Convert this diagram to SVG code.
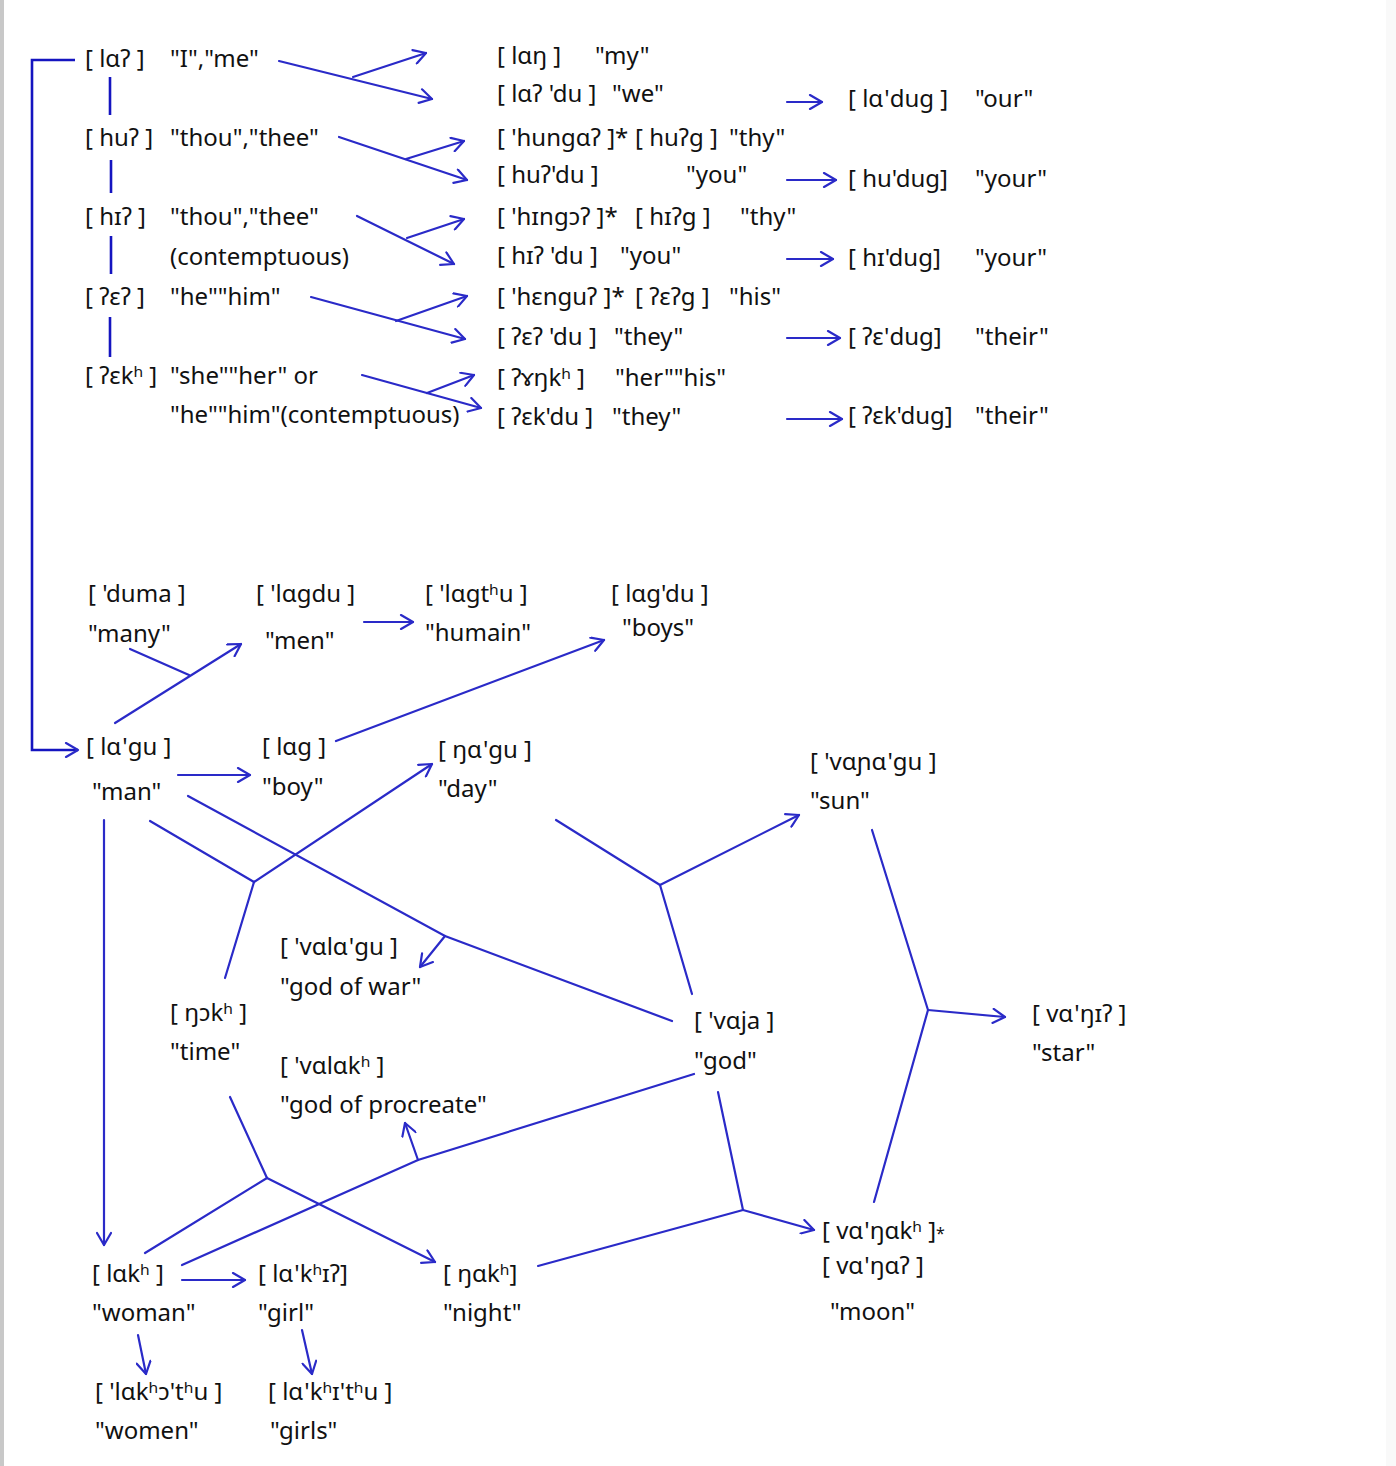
<svg xmlns="http://www.w3.org/2000/svg" width="1396" height="1466" viewBox="0 0 1396 1466">
<style>
text{font-family:"Noto Sans","DejaVu Sans",sans-serif;font-size:24px;fill:#111;white-space:pre}
.c{fill:none;stroke:#2a2ac8;stroke-width:2.2;stroke-linecap:round}
.k{fill:none;stroke:#1414c0;stroke-width:2.6}
.a{marker-end:url(#ah)}
.sm{font-size:16px}
</style>
<defs>
<marker id="ah" viewBox="-14 -8 16 16" markerWidth="16" markerHeight="16" refX="0" refY="0" orient="auto" markerUnits="userSpaceOnUse">
<path d="M-12,-7 L0,0 L-12,7" fill="none" stroke="#2a2ac8" stroke-width="2.2" stroke-linecap="round" stroke-linejoin="round"/>
</marker>
</defs>
<rect width="1396" height="1466" fill="#fff"/>
<rect x="0" y="0" width="4" height="1466" fill="#c8c8c8"/>
<rect x="1386" y="0" width="10" height="1466" fill="#f9f9f9"/>

<g id="connectors">
<path class="k a" d="M75,60 H32 V750 H78"/>
<line class="k" x1="110" y1="77" x2="110" y2="115"/>
<line class="k" x1="111" y1="160" x2="111" y2="193"/>
<line class="k" x1="111" y1="236" x2="111" y2="274"/>
<line class="k" x1="110" y1="317" x2="110" y2="357"/>

<line class="c a" x1="279" y1="61" x2="432" y2="99"/>
<line class="c a" x1="353" y1="77" x2="426" y2="53"/>
<line class="c a" x1="339" y1="137" x2="467" y2="180"/>
<line class="c a" x1="406" y1="159" x2="464" y2="141"/>
<line class="c a" x1="357" y1="216" x2="454" y2="264"/>
<line class="c a" x1="407" y1="238" x2="464" y2="219"/>
<line class="c a" x1="311" y1="297" x2="465" y2="339"/>
<line class="c a" x1="396" y1="321" x2="467" y2="296"/>
<line class="c a" x1="362" y1="375" x2="481" y2="408"/>
<line class="c a" x1="427" y1="393" x2="474" y2="375"/>

<line class="c a" x1="787" y1="102" x2="822" y2="102"/>
<line class="c a" x1="787" y1="180" x2="836" y2="180"/>
<line class="c a" x1="787" y1="259" x2="833" y2="259"/>
<line class="c a" x1="787" y1="338" x2="840" y2="338"/>
<line class="c a" x1="787" y1="419" x2="842" y2="419"/>

<line class="c" x1="130" y1="649" x2="189" y2="675"/>
<line class="c a" x1="115" y1="723" x2="241" y2="644"/>
<line class="c a" x1="364" y1="622" x2="413" y2="622"/>
<line class="c a" x1="336" y1="741" x2="604" y2="640"/>
<line class="c a" x1="178" y1="775" x2="250" y2="775"/>

<line class="c" x1="150" y1="821" x2="254" y2="882"/>
<line class="c" x1="225" y1="978" x2="254" y2="882"/>
<line class="c a" x1="254" y1="882" x2="432" y2="764"/>

<polyline class="c" points="188,796 445,936 672,1021"/>
<line class="c a" x1="445" y1="936" x2="420" y2="967"/>

<line class="c" x1="556" y1="820" x2="660" y2="885"/>
<line class="c" x1="692" y1="994" x2="660" y2="885"/>
<line class="c a" x1="660" y1="885" x2="799" y2="815"/>

<line class="c" x1="872" y1="830" x2="928" y2="1010"/>
<line class="c" x1="874" y1="1202" x2="928" y2="1010"/>
<line class="c a" x1="928" y1="1010" x2="1005" y2="1017"/>

<line class="c a" x1="104" y1="820" x2="104" y2="1245"/>

<line class="c" x1="230" y1="1097" x2="267" y2="1178"/>
<line class="c" x1="145" y1="1253" x2="267" y2="1178"/>
<line class="c a" x1="267" y1="1178" x2="435" y2="1262"/>

<polyline class="c" points="182,1265 418,1160 694,1074"/>
<line class="c a" x1="418" y1="1160" x2="405" y2="1123"/>

<line class="c" x1="538" y1="1266" x2="743" y2="1210"/>
<line class="c" x1="718" y1="1092" x2="743" y2="1210"/>
<line class="c a" x1="743" y1="1210" x2="814" y2="1230"/>

<line class="c a" x1="182" y1="1280" x2="245" y2="1280"/>
<line class="c a" x1="138" y1="1335" x2="146" y2="1374"/>
<line class="c a" x1="302" y1="1330" x2="312" y2="1374"/>
</g>

<g id="n-la"><text x="85" y="67">[ lαʔ ]</text><text x="170" y="67">"I","me"</text></g>
<g id="n-hu"><text x="85" y="146">[ huʔ ]</text><text x="170" y="146">"thou","thee"</text></g>
<g id="n-hi"><text x="85" y="225">[ hɪʔ ]</text><text x="170" y="225">"thou","thee"</text><text x="170" y="265">(contemptuous)</text></g>
<g id="n-ee"><text x="85" y="305">[ ʔεʔ ]</text><text x="170" y="305">"he""him"</text></g>
<g id="n-ek"><text x="85" y="384">[ ʔεkʰ ]</text><text x="170" y="384">"she""her" or</text><text x="170" y="423">"he""him"(contemptuous)</text></g>

<g id="n-lang"><text x="497" y="64">[ lαŋ ]</text><text x="595" y="64">"my"</text></g>
<g id="n-ladu"><text x="497" y="102">[ lαʔ 'du ]</text><text x="612" y="102">"we"</text></g>
<g id="n-ladug"><text x="848" y="107">[ lα'dug ]</text><text x="975" y="107">"our"</text></g>
<g id="n-hunga"><text x="497" y="146">[ 'hungαʔ ]*</text><text x="635" y="146">[ huʔg ]</text><text x="729" y="146">"thy"</text></g>
<g id="n-hudu"><text x="497" y="183">[ huʔ'du ]</text><text x="686" y="183">"you"</text></g>
<g id="n-hudug"><text x="848" y="187">[ hu'dug]</text><text x="975" y="187">"your"</text></g>
<g id="n-hingo"><text x="497" y="225">[ 'hɪngɔʔ ]*</text><text x="635" y="225">[ hɪʔg ]</text><text x="740" y="225">"thy"</text></g>
<g id="n-hidu"><text x="497" y="264">[ hɪʔ 'du ]</text><text x="620" y="264">"you"</text></g>
<g id="n-hidug"><text x="848" y="266">[ hɪ'dug]</text><text x="975" y="266">"your"</text></g>
<g id="n-hengu"><text x="497" y="305">[ 'hεnguʔ ]*</text><text x="635" y="305">[ ʔεʔg ]</text><text x="729" y="305">"his"</text></g>
<g id="n-eedu"><text x="497" y="345">[ ʔεʔ 'du ]</text><text x="614" y="345">"they"</text></g>
<g id="n-edug"><text x="848" y="345">[ ʔε'dug]</text><text x="975" y="345">"their"</text></g>
<g id="n-ongk"><text x="497" y="386">[ ʔɤŋkʰ ]</text><text x="615" y="386">"her""his"</text></g>
<g id="n-ekdu"><text x="497" y="425">[ ʔεk'du ]</text><text x="612" y="425">"they"</text></g>
<g id="n-ekdug"><text x="848" y="424">[ ʔεk'dug]</text><text x="975" y="424">"their"</text></g>

<g id="n-duma"><text x="88" y="602">[ 'duma ]</text><text x="88" y="642">"many"</text></g>
<g id="n-lagdu"><text x="256" y="602">[ 'lαgdu ]</text><text x="265" y="649">"men"</text></g>
<g id="n-lagthu"><text x="425" y="602">[ 'lαgtʰu ]</text><text x="425" y="641">"humain"</text></g>
<g id="n-lagdu2"><text x="611" y="602">[ lαg'du ]</text><text x="622" y="636">"boys"</text></g>
<g id="n-lagu"><text x="86" y="755">[ lα'gu ]</text><text x="92" y="800">"man"</text></g>
<g id="n-lag"><text x="262" y="755">[ lαg ]</text><text x="262" y="795">"boy"</text></g>
<g id="n-ngagu"><text x="438" y="758">[ ŋα'gu ]</text><text x="438" y="797">"day"</text></g>
<g id="n-vanagu"><text x="810" y="770">[ 'vαɲα'gu ]</text><text x="810" y="809">"sun"</text></g>
<g id="n-valagu"><text x="280" y="955">[ 'vαlα'gu ]</text><text x="280" y="995">"god of war"</text></g>
<g id="n-ngok"><text x="170" y="1021">[ ŋɔkʰ ]</text><text x="170" y="1060">"time"</text></g>
<g id="n-vaja"><text x="694" y="1029">[ 'vαja ]</text><text x="694" y="1069">"god"</text></g>
<g id="n-vangi"><text x="1032" y="1022">[ vα'ŋɪʔ ]</text><text x="1032" y="1061">"star"</text></g>
<g id="n-valak"><text x="280" y="1074">[ 'vαlαkʰ ]</text><text x="280" y="1113">"god of procreate"</text></g>
<g id="n-lak"><text x="92" y="1282">[ lαkʰ ]</text><text x="92" y="1321">"woman"</text></g>
<g id="n-lakhi"><text x="258" y="1282">[ lα'kʰɪʔ]</text><text x="258" y="1321">"girl"</text></g>
<g id="n-ngak"><text x="443" y="1282">[ ŋαkʰ]</text><text x="443" y="1321">"night"</text></g>
<g id="n-vangak"><text x="822" y="1239">[ vα'ŋαkʰ ]<tspan class="sm">*</tspan></text><text x="822" y="1274">[ vα'ŋαʔ ]</text><text x="830" y="1320">"moon"</text></g>
<g id="n-lakhothu"><text x="95" y="1400">[ 'lαkʰɔ'tʰu ]</text><text x="95" y="1439">"women"</text></g>
<g id="n-lakhithu"><text x="268" y="1400">[ lα'kʰɪ'tʰu ]</text><text x="270" y="1439">"girls"</text></g>
</svg>
